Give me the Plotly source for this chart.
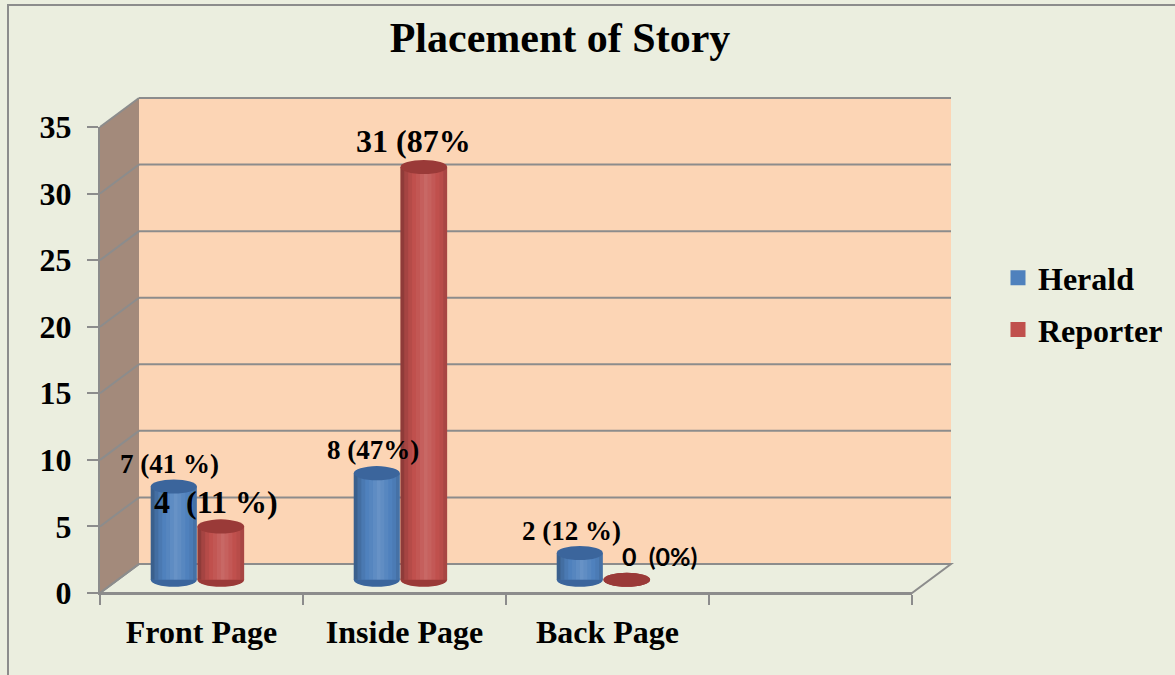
import plotly.graph_objects as go

# ---------------- data ----------------
categories = ["Front Page", "Inside Page", "Back Page", ""]
herald = [7, 8, 2]
reporter = [4, 31, 0]
herald_labels = ["7 (41 %)", "8 (47%)", "2 (12 %)"]
reporter_labels = ["4\u00a0\u00a0(11 %)", "31 (87%", "0\u00a0\u00a0(0%)"]
y_ticks = [0, 5, 10, 15, 20, 25, 30, 35]

# ---------------- style ----------------
W, H = 1175, 675
L, R = 100, 912          # front plane pixel extents
Y0, YT = 593, 127        # pixel of value 0 and of top tick on front plane
DX, DY = 39, -29         # depth offset of back wall
BG = "#EBEEDF"
WALL = "#FCD5B5"
SIDE = "#A38A7B"
GRID = "#8C8C8C"
SERIF = "Liberation Serif, Times New Roman, serif"
BLUE, BLUE_TOP = "#4F81BD", "#3B659C"
RED, RED_TOP = "#C0504D", "#9A3A38"

ymax = y_ticks[-1]


def px(x):
    return (x - L) / (R - L)


def py(y):
    return (Y0 - y) / (Y0 - YT)


def yfront(v):
    return Y0 - v * (Y0 - YT) / ymax


xs = list(range(len(herald)))

series = [
    dict(name="Herald", vals=herald, labels=herald_labels, color=BLUE, top=BLUE_TOP,
         offset=-0.25, width=0.227,
         lab_size=[27, 27, 27], lab_dx=[-4, -4, -8], lab_dy=[22, 23, 22],
         lab_font=[SERIF, SERIF, SERIF]),
    dict(name="Reporter", vals=reporter, labels=reporter_labels, color=RED, top=RED_TOP,
         offset=-0.02, width=0.23,
         lab_size=[32, 32, 25], lab_dx=[-5, -10, 33], lab_dy=[24, 26, 24],
         lab_font=[SERIF, SERIF, "Lato, Open Sans, sans-serif"]),
]

fig = go.Figure()
shapes = []
annotations = []

# ---- 3D frame (paper coords) ----
shapes.append(dict(type="rect", xref="paper", yref="paper", layer="below",
                   x0=px(8), x1=px(1190), y0=py(5), y1=py(690),
                   line=dict(color=GRID, width=2), fillcolor=BG))
shapes.append(dict(type="rect", xref="paper", yref="paper", layer="below",
                   x0=px(L + DX), x1=px(R + DX), y0=py(Y0 + DY), y1=py(YT + DY),
                   line=dict(width=0), fillcolor=WALL))
side = (f"M {px(L)},{py(Y0)} L {px(L)},{py(YT)} L {px(L + DX)},{py(YT + DY)} "
        f"L {px(L + DX)},{py(Y0 + DY)} Z")
shapes.append(dict(type="path", xref="paper", yref="paper", layer="below", path=side,
                   line=dict(width=0), fillcolor=SIDE))
floor = (f"M {px(L)},{py(Y0)} L {px(L + DX)},{py(Y0 + DY)} L {px(R + DX)},{py(Y0 + DY)} "
         f"L {px(R)},{py(Y0)} Z")
shapes.append(dict(type="path", xref="paper", yref="paper", layer="below", path=floor,
                   line=dict(color=GRID, width=2), fillcolor=BG))
for v in y_ticks:
    yb = yfront(v) + DY
    shapes.append(dict(type="line", xref="paper", yref="paper", layer="below",
                       x0=px(L + DX), x1=px(R + DX), y0=py(yb), y1=py(yb),
                       line=dict(color=GRID, width=2)))
    shapes.append(dict(type="line", xref="paper", yref="paper", layer="below",
                       x0=px(L), x1=px(L + DX), y0=py(yfront(v)), y1=py(yb),
                       line=dict(color=GRID, width=2)))

# invisible trace so that the front (labelled) y axis is drawn
fig.add_trace(go.Scatter(x=[None], y=[None], mode="markers", showlegend=False,
                         hoverinfo="skip"))

# ---- bars (cylinders) ----
E = 0.53   # half height of ellipse caps, in value units
NS = 12
for s in series:
    fig.add_trace(go.Bar(
        name=s["name"], x=xs, y=s["vals"], yaxis="y2",
        offset=s["offset"], width=s["width"],
        marker=dict(color=s["color"], line=dict(width=0)),
        hoverinfo="skip", legendgroup=s["name"], showlegend=False,
    ))
    # legend entry with a larger square swatch
    fig.add_trace(go.Scatter(
        name=s["name"], x=[None], y=[None], mode="markers",
        marker=dict(symbol="square", size=15, color=s["color"]),
        legendgroup=s["name"], showlegend=True, hoverinfo="skip",
    ))
    for i, v in zip(xs, s["vals"]):
        x0 = i + s["offset"]
        x1 = x0 + s["width"]
        # bottom rounded cap
        shapes.append(dict(type="circle", xref="x", yref="y2", layer="below",
                           x0=x0, x1=x1, y0=-E, y1=E,
                           fillcolor=s["top"], line=dict(width=0)))
        # cylinder shading
        if v > 0:
            for k in range(NS):
                t = (k + 0.5) / NS
                d = abs(2 * t - 1.1)
                xa = x0 + (x1 - x0) * k / NS
                xb = x0 + (x1 - x0) * (k + 1) / NS
                if d < 0.5:
                    fc, op = "white", 0.14 * (1 - d / 0.5)
                else:
                    fc, op = "black", 0.32 * ((d - 0.5) / 0.6) ** 1.5
                shapes.append(dict(type="rect", xref="x", yref="y2", layer="above",
                                   x0=xa, x1=xb, y0=0, y1=v, fillcolor=fc,
                                   opacity=op, line=dict(width=0)))
        # top cap
        shapes.append(dict(type="circle", xref="x", yref="y2", layer="above",
                           x0=x0, x1=x1, y0=v - E, y1=v + E,
                           fillcolor=s["top"], line=dict(width=0)))
    for j, (i, v, lab) in enumerate(zip(xs, s["vals"], s["labels"])):
        c = i + s["offset"] + s["width"] / 2
        annotations.append(dict(
            x=c, y=v, xref="x", yref="y2", text=f"<b>{lab}</b>", showarrow=False,
            xanchor="center", yanchor="middle",
            xshift=s["lab_dx"][j], yshift=s["lab_dy"][j],
            font=dict(family=s["lab_font"][j], size=s["lab_size"][j], color="black"),
        ))

fig.update_layout(
    width=W, height=H, autosize=False,
    margin=dict(l=L, r=W - R, t=YT, b=H - Y0, pad=0, autoexpand=False),
    paper_bgcolor=BG, plot_bgcolor="rgba(0,0,0,0)",
    title=dict(text="<b>Placement of Story</b>", x=560 / W, xanchor="center",
               y=1 - 37 / H, yanchor="middle", xref="container", yref="container",
               font=dict(family=SERIF, size=42, color="black")),
    barmode="group",
    showlegend=True,
    legend=dict(x=998 / W, y=1 - 304 / H, xref="container", yref="container",
                xanchor="left", yanchor="middle",
                font=dict(family=SERIF, size=32, color="black", weight="bold"),
                bgcolor="rgba(0,0,0,0)", tracegroupgap=7, itemwidth=30),
    xaxis=dict(range=[-0.5, len(categories) - 0.5],
               tickvals=list(range(len(categories))), ticktext=categories,
               showgrid=False, zeroline=False, showline=True,
               linecolor=GRID, linewidth=2, ticks="", ticklabelstandoff=10,
               tickfont=dict(family=SERIF, size=32, color="black", weight="bold"),
               minor=dict(tickmode="array",
                          tickvals=[i - 0.5 for i in range(len(categories) + 1)],
                          ticks="outside", ticklen=10, tickcolor=GRID, tickwidth=2,
                          showgrid=False),
               automargin=False, fixedrange=True),
    yaxis=dict(range=[0, ymax], tickvals=y_ticks, showgrid=False, zeroline=False,
               showline=True, linecolor=GRID, linewidth=2,
               ticks="outside", ticklen=11, tickcolor=GRID, tickwidth=2,
               ticklabelstandoff=9, automargin=False,
               tickfont=dict(family=SERIF, size=32, color="black", weight="bold"),
               fixedrange=True),
    yaxis2=dict(range=[-1, ymax - 1], overlaying="y", visible=False, fixedrange=True),
    shapes=shapes,
    annotations=annotations,
)

fig.write_html("out.html", config={"displayModeBar": False},
               post_script="document.body.style.margin='0';")
